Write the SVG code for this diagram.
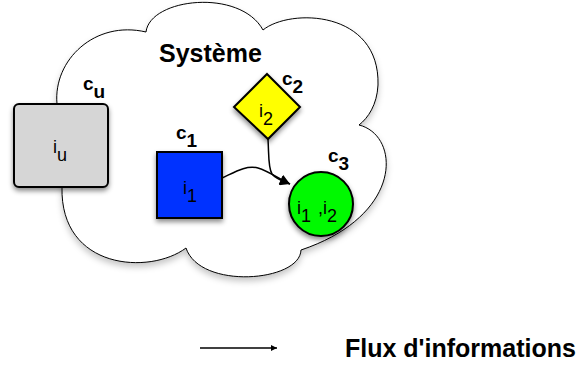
<svg xmlns="http://www.w3.org/2000/svg" width="579" height="369" viewBox="0 0 579 369">
<defs>
<filter id="sh" x="-20%" y="-20%" width="140%" height="150%">
<feDropShadow dx="0" dy="3" stdDeviation="2.5" flood-color="#000" flood-opacity="0.45"/>
</filter>
<filter id="shc" x="-10%" y="-10%" width="120%" height="130%">
<feDropShadow dx="0" dy="4" stdDeviation="3" flood-color="#000" flood-opacity="0.22"/>
</filter>
<marker id="ah" viewBox="0 0 10 10" refX="10" refY="5" markerWidth="12" markerHeight="10" markerUnits="userSpaceOnUse" orient="auto">
<path d="M0,0 L10,5 L0,10 Z" fill="#000"/>
</marker>
<marker id="ahs" viewBox="0 0 10 10" refX="10" refY="5" markerWidth="8" markerHeight="6" markerUnits="userSpaceOnUse" orient="auto">
<path d="M0,0 L10,5 L0,10 Z" fill="#000"/>
</marker>
</defs>
<style>
.lbl{font-family:"Liberation Sans",Arial,sans-serif;font-size:18px;fill:#000}
.cl{font-family:"Liberation Sans",Arial,sans-serif;font-size:19px;font-weight:bold;fill:#000}
.big{font-family:"Liberation Sans",Arial,sans-serif;font-size:25px;font-weight:bold;fill:#000}
.node{stroke:#000;stroke-width:2;filter:url(#sh)}
.edge{fill:none;stroke:#000;stroke-width:1.5}
</style>
<g id="systeme">
<path d="M57,104 C53,60 95,20 146,32 C150,-2 240,-12 263,30 C290,8 380,10 378,85 C377,105 368,118 359,125 C400,135 405,215 301,250 C300,282 200,290 186,248 C150,275 60,270 62,187 Z" fill="#fff" stroke="#000" stroke-width="1" filter="url(#shc)"/>
<text class="big" x="159" y="62">Système</text>
</g>
<g id="cu">
<rect class="node" x="14" y="104" width="94" height="83" rx="5" fill="#d6d6d6" stroke-width="1.2"/>
<text class="lbl" x="53" y="153">i<tspan dy="8">u</tspan></text>
<text class="cl" x="83" y="90">c<tspan dy="8">u</tspan></text>
</g>
<g id="c1">
<rect class="node" x="157" y="152" width="65" height="66" fill="#0433ff"/>
<text class="lbl" x="183" y="194">i<tspan dy="8">1</tspan></text>
<text class="cl" x="176" y="139">c<tspan dy="8">1</tspan></text>
</g>
<g id="c2">
<path class="node" d="M267,74 L300,107 L268,139 L234,107 Z" fill="#ffff00" stroke-width="1.5"/>
<text class="lbl" x="259" y="117">i<tspan dy="8">2</tspan></text>
<text class="cl" x="282" y="85">c<tspan dy="8">2</tspan></text>
</g>
<g id="c3">
<circle class="node" cx="321" cy="204" r="32" fill="#00f900"/>
<text class="lbl" x="297" y="214">i<tspan dy="8">1</tspan><tspan dy="-8" dx="2"> ,i</tspan><tspan dy="8">2</tspan></text>
<text class="cl" x="328" y="162">c<tspan dy="8">3</tspan></text>
</g>
<g id="connectors">
<path class="edge" d="M222,178 C235,172 246,165 258,168 C268,171 278,178 290,184" marker-end="url(#ah)"/>
<path class="edge" d="M268,139 C269,155 268,168 272,174 C276,179 282,181 290,184" marker-end="url(#ah)"/>
<path class="edge" d="M200,348 L277,348" stroke-width="1" marker-end="url(#ahs)"/>
</g>
<g id="legende">
<text class="big" x="345" y="357">Flux d'informations</text>
</g>
</svg>
